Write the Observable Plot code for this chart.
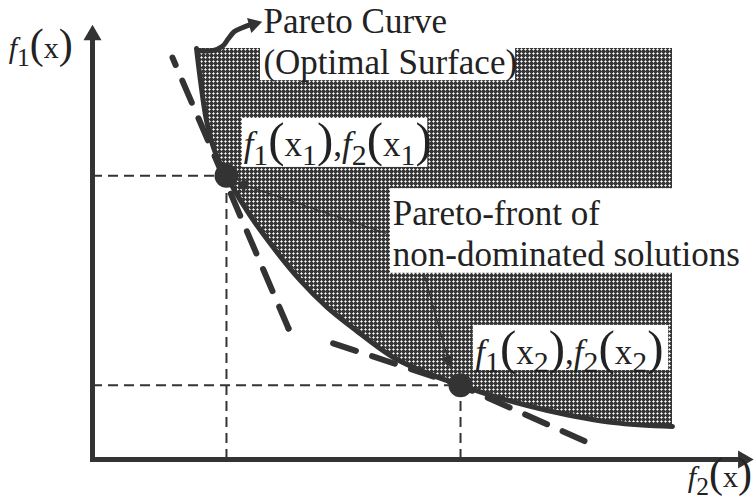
<!DOCTYPE html>
<html>
<head>
<meta charset="utf-8">
<script src="https://cdn.jsdelivr.net/npm/d3@7"></script>
<script src="https://cdn.jsdelivr.net/npm/@observablehq/plot@0.6"></script>
<style>
  body { margin: 0; background: #fff; }
  #chart svg { display: block; }
</style>
</head>
<body>
<div id="chart"></div>
<script>
// Objective space in arbitrary units (0–100): f2 runs along x, f1 along y.

// Pareto curve (boundary of the feasible region)
const frontF2 = [15.76, 16.36, 17.27, 18.48, 20.30, 22.42, 25.45, 31.52, 35.61, 39.55, 45.61, 51.21, 55.76, 61.82, 68.94, 78.94, 87.88];
const frontF1 = [94.7, 87.3, 78.1, 71.2, 65.4, 59.7, 52.8, 41.2, 35.0, 30.2, 23.5, 19.6, 17.1, 14.1, 11.3, 8.5, 7.6];
const feasibleTop = 94.7;

// Piecewise-linear approximation of the front (steep part, then shallow part)
const approxF2 = [12.12, 29.70, 55.76, 74.7];
const approxF1 = [92.6, 30.18, 17.05, 4.15];

// Two non-dominated solutions on the front
const solutionNames = ["x1", "x2"];
const solutionF2 = [20.3, 55.76];
const solutionF1 = [65.4, 17.1];

// Axis arrow heads
const axisNames = ["f2", "f1"];
const axisEndF2 = [98.6, 0];
const axisEndF1 = [0, 97.8];
const axisHeadAngle = [90, 0];

// Callout from the curve to its title
const calloutF2 = [16.2, 18.2, 19.7, 20.6, 21.5, 22.7, 23.9];
const calloutF1 = [94.2, 94.2, 95.2, 97.0, 98.6, 99.5, 100.2];
const calloutHead = {f2: 24.4, f1: 100.3, angle: 74};

// Pointers from the annotation to the two solutions
const pointerFromF2 = [44.5, 50.2];
const pointerFromF1 = [52.1, 42.9];
const pointerToF2 = [22.8, 53.9];
const pointerToF1 = [63.3, 22.9];
const pointerAngle = [-71, 163];

// Clear backgrounds behind the labels that sit on the shaded region
const boxLeft = [25.45, 22.7, 45.15, 57.7];
const boxRight = [64.1, 50.8, 88.5, 87.3];
const boxBottom = [87.3, 67.3, 42.9, 20.5];
const boxTop = [95.2, 78.6, 62.4, 30.9];

// Labels
const axisLabels = ["f1(x)", "f2(x)"];
const axisLabelF2 = [-12.7, 90.2];
const axisLabelF1 = [92.4, -6.45];
const pointLabels = ["f1(x1),f2(x1)", "f1(x2),f2(x2)"];
const pointLabelF2 = [22.9, 58.0];
const pointLabelF1 = [70.0, 22.1];
const notes = ["Pareto Curve\n(Optimal Surface)", "Pareto-front of\nnon-dominated solutions"];
const noteF2 = [25.9, 45.5];
const noteF1 = [88.9, 44.7];

const ink = "#333";
const textInk = "#222";
const serif = "Liberation Serif, Times New Roman, serif";

const front = frontF2.map((f2, i) => ({f2, f1: frontF1[i]}));
const approx = approxF2.map((f2, i) => ({f2, f1: approxF1[i]}));
const solutions = solutionNames.map((name, i) => ({name, f2: solutionF2[i], f1: solutionF1[i]}));
const axes = axisNames.map((name, i) => ({name, f2: axisEndF2[i], f1: axisEndF1[i], angle: axisHeadAngle[i]}));
const callout = calloutF2.map((f2, i) => ({f2, f1: calloutF1[i]}));
const pointers = pointerFromF2.map((f2, i) => ({
  f2a: f2, f1a: pointerFromF1[i], f2b: pointerToF2[i], f1b: pointerToF1[i], angle: pointerAngle[i]
}));
const boxes = boxLeft.map((l, i) => ({l, r: boxRight[i], b: boxBottom[i], t: boxTop[i]}));
const axisLabelRows = axisLabels.map((text, i) => ({text, f2: axisLabelF2[i], f1: axisLabelF1[i]}));
const pointLabelRows = pointLabels.map((text, i) => ({text, f2: pointLabelF2[i], f1: pointLabelF1[i]}));
const noteRows = notes.map((text, i) => ({text, f2: noteF2[i], f1: noteF1[i]}));

const svg = Plot.plot({
  width: 755,
  height: 500,
  margin: 0,
  x: {domain: [0, 100], range: [92, 752], axis: null},
  y: {domain: [0, 100], range: [459, 25], axis: null},
  style: {background: "#fff", overflow: "visible"},
  marks: [
    // feasible (dominated) region
    Plot.areaY(front, {x: "f2", y1: "f1", y2: feasibleTop, curve: "catmull-rom", fill: "url(#mesh)"}),
    Plot.rect(boxes, {x1: "l", x2: "r", y1: "b", y2: "t", fill: "#fff"}),
    // guides from the solutions to the axes
    Plot.ruleY(solutions, {y: "f1", x1: 0, x2: "f2", stroke: ink, strokeWidth: 2, strokeDasharray: "10,6"}),
    Plot.ruleX(solutions, {x: "f2", y1: 0, y2: "f1", stroke: ink, strokeWidth: 2, strokeDasharray: "10,6"}),
    // approximation: steep part and shallow part drawn as separate strokes
    Plot.line(approx.slice(0, 2), {x: "f2", y: "f1", stroke: ink, strokeWidth: 6,
      strokeDasharray: "24,17", strokeDashoffset: 16}),
    Plot.line(approx.slice(1), {x: "f2", y: "f1", stroke: ink, strokeWidth: 6,
      strokeDasharray: "0,47,24,17,24,17,24,17,24,17,24,17,24,17,24,17"}),
    // the Pareto curve
    Plot.line(front, {x: "f2", y: "f1", curve: "catmull-rom", stroke: ink, strokeWidth: 5}),
    // axes
    Plot.link(axes, {x1: 0, y1: 0, x2: "f2", y2: "f1", stroke: ink, strokeWidth: 5, strokeLinecap: "square"}),
    Plot.dot(axes, {x: "f2", y: "f1", symbol: "triangle", r: 6.7, fill: ink, rotate: "angle"}),
    // solutions
    Plot.dot(solutions, {x: "f2", y: "f1", r: 12, fill: ink}),
    // callout
    Plot.line(callout, {x: "f2", y: "f1", curve: "catmull-rom", stroke: ink, strokeWidth: 5}),
    Plot.dot([calloutHead], {x: "f2", y: "f1", symbol: "triangle", r: 5.8, fill: ink, rotate: "angle"}),
    // pointers
    Plot.link(pointers, {x1: "f2a", y1: "f1a", x2: "f2b", y2: "f1b", stroke: ink, strokeWidth: 1.5}),
    Plot.dot(pointers, {x: "f2b", y: "f1b", symbol: "triangle", r: 5, fill: ink, rotate: "angle"}),
    // labels
    Plot.text(noteRows, {x: "f2", y: "f1", text: "text", textAnchor: "start", lineAnchor: "bottom",
      lineHeight: 1.15, fontFamily: serif, fontSize: 35, fill: textInk}),
    Plot.text(pointLabelRows, {x: "f2", y: "f1", text: "text", textAnchor: "start", lineAnchor: "bottom",
      fontFamily: serif, fontSize: 35, fill: textInk}),
    Plot.text(axisLabelRows, {x: "f2", y: "f1", text: "text", textAnchor: "start", lineAnchor: "bottom",
      fontFamily: serif, fontSize: 30, fill: textInk})
  ]
});

// halftone used for the feasible region
const ns = "http://www.w3.org/2000/svg";
const defs = document.createElementNS(ns, "defs");
defs.innerHTML = `
  <pattern id="mesh" width="4" height="4" patternUnits="userSpaceOnUse">
    <rect width="4" height="4" fill="#363636"/>
    <rect x="1" y="0" width="1" height="3" fill="#bbb"/>
    <rect x="0" y="1" width="3" height="1" fill="#bbb"/>
    <rect x="1" y="1" width="1" height="1" fill="#fff"/>
  </pattern>`;
svg.insertBefore(defs, svg.firstChild);

document.getElementById("chart").appendChild(svg);

// typeset f1(x1)-style labels: italic f, lowered indices, tall parentheses
svg.querySelectorAll("text").forEach((el) => {
  const s = el.textContent;
  if (!/^f\d\(/.test(s)) return;
  const size = parseFloat(getComputedStyle(el).fontSize);
  el.textContent = "";
  let shift = 0;
  for (const ch of s) {
    const t = document.createElementNS(ns, "tspan");
    let target = 0;
    if (/\d/.test(ch)) {
      t.setAttribute("font-size", (size * 0.85).toFixed(1));
      target = size * 0.25;
    } else if (ch === "(" || ch === ")") {
      t.setAttribute("font-size", (size * 1.4).toFixed(1));
    } else if (ch === "f") {
      t.setAttribute("font-style", "italic");
    }
    if (target !== shift) {
      t.setAttribute("dy", (target - shift).toFixed(1));
      shift = target;
    }
    t.textContent = ch;
    el.appendChild(t);
  }
});
</script>
</body>
</html>
